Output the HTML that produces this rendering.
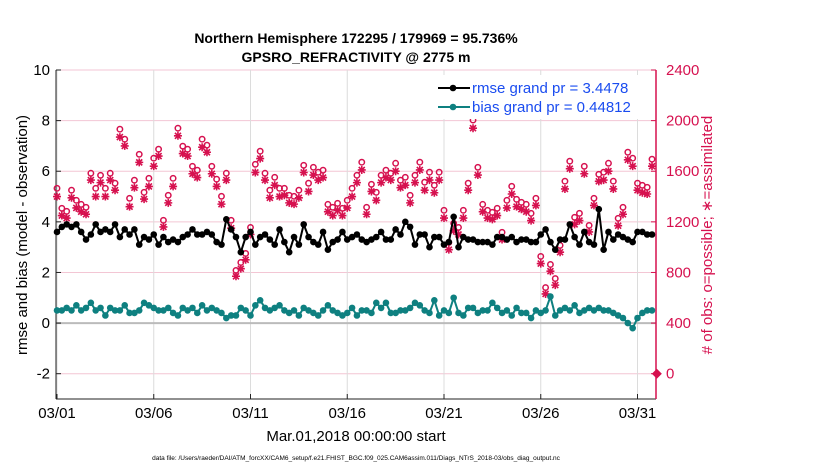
<!DOCTYPE html>
<html><head><meta charset="utf-8">
<style>
html,body{margin:0;padding:0;background:#fff;}
svg{display:block;font-family:"Liberation Sans",sans-serif;}
</style></head>
<body>
<svg id="chart" width="830" height="470" viewBox="0 0 830 470" xmlns="http://www.w3.org/2000/svg">
<text x="356" y="43" text-anchor="middle" font-size="14" font-weight="bold">Northern Hemisphere 172295 / 179969 = 95.736%</text>
<text x="356" y="62" text-anchor="middle" font-size="14" font-weight="bold">GPSRO_REFRACTIVITY @ 2775 m</text>
<g id="grid"></g>
<g id="axes"></g>
<g id="series"></g>
<g id="legend"></g>
<text transform="translate(27,235) rotate(-90)" text-anchor="middle" font-size="15">rmse and bias (model - observation)</text>
<text transform="translate(712,235) rotate(-90)" text-anchor="middle" font-size="15" fill="#d6114f"># of obs: o=possible; ∗=assimilated</text>
<text x="356" y="441" text-anchor="middle" font-size="15">Mar.01,2018 00:00:00 start</text>
<text x="356" y="460" text-anchor="middle" font-size="6.5">data file: /Users/raeder/DAI/ATM_forcXX/CAM6_setup/f.e21.FHIST_BGC.f09_025.CAM6assim.011/Diags_NTrS_2018-03/obs_diag_output.nc</text>
</svg>
<script>
const rmse=[3.6,3.8,3.9,3.8,3.9,3.6,3.3,3.5,3.9,3.6,3.7,3.6,3.9,3.4,3.7,3.5,3.7,3.1,3.4,3.3,3.5,3.1,3.4,3.2,3.3,3.2,3.4,3.5,3.7,3.5,3.5,3.6,3.5,3.2,3.1,4.1,3.7,3.4,2.8,3.4,3.6,3.1,3.4,3.5,3.3,3.1,3.7,3.2,2.8,3.4,3.1,3.9,3.4,3.2,3.1,3.6,2.9,3.2,3.3,3.6,3.3,3.4,3.5,3.3,3.2,3.3,3.4,3.6,3.3,3.3,3.7,3.5,4.0,3.8,3.1,3.5,3.5,3.0,3.4,3.4,3.1,3.2,4.2,3.0,3.4,3.3,3.3,3.2,3.2,3.2,3.1,3.4,3.4,3.3,3.4,3.2,3.3,3.3,3.2,3.2,3.5,3.7,3.2,2.9,3.3,3.3,3.9,3.4,3.1,3.6,3.2,3.1,4.5,2.9,3.6,3.3,3.5,3.4,3.3,3.2,3.6,3.6,3.5,3.5];
const bias=[.5,.5,.6,.5,.7,.5,.6,.8,.5,.6,.3,.6,.5,.5,.7,.4,.4,.5,.8,.7,.6,.5,.5,.6,.4,.3,.6,.5,.6,.4,.7,.5,.6,.5,.4,.2,.3,.3,.6,.5,.3,.7,.9,.6,.5,.6,.7,.5,.4,.5,.3,.6,.5,.4,.3,.5,.7,.5,.4,.3,.4,.6,.3,.5,.5,.4,.8,.6,.8,.4,.4,.5,.5,.6,.8,.7,.5,.4,.9,.3,.5,.4,1.0,.4,.3,.6,.6,.4,.5,.5,.8,.6,.4,.5,.3,.6,.4,.4,.2,.5,.4,.5,1.05,.3,.5,.6,.5,.7,.4,.5,.6,.5,.6,.5,.5,.4,.3,.2,0,-.2,.2,.4,.5,.5];
const obsDays=[0,.25,.5,.75,1,1.25,1.5,1.75,2,2.25,2.5,2.75,3,3.25,3.5,3.75,4,4.25,4.5,4.75,5,5.25,5.5,5.75,6,6.25,6.5,6.75,7,7.25,7.5,7.75,8,8.25,8.5,8.75,9,9.25,9.5,9.75,10,10.25,10.5,10.75,11,11.25,11.5,11.75,12,12.25,12.5,12.75,13,13.25,13.5,13.75,14,14.25,14.5,14.75,15,15.25,15.5,15.75,16,16.25,16.5,16.75,17,17.25,17.5,17.75,18,18.25,18.5,18.75,19,19.25,19.5,19.75,20,20.25,20.5,20.75,21,21.25,21.5,21.75,22,22.25,22.5,22.75,23,23.25,23.5,23.75,24,24.25,24.5,24.75,25,25.25,25.5,25.75,26,26.25,26.5,26.75,27,27.25,27.5,27.75,28,28.25,28.5,28.75,29,29.25,29.5,29.75,30,30.25,30.5,30.75,31];
const possible=[1465,1307,1283,1450,1370,1338,1315,1584,1465,1568,1465,1584,1505,1932,1853,1386,1529,1734,1433,1544,1703,1774,1212,1410,1544,1940,1798,1774,1639,1608,1853,1806,1639,1537,1402,1584,1212,816,879,950,1156,1655,1758,1584,1450,1552,1465,1465,1410,1402,1450,1647,1505,1631,1592,1608,1338,1315,1346,1307,1370,1465,1568,1671,1315,1497,1433,1568,1608,1584,1663,1529,1552,1410,1568,1671,1513,1592,1489,1592,1291,1037,1188,1156,1291,1505,2004,1631,1338,1291,1275,1307,1117,1370,1481,1378,1354,1338,1267,1386,927,681,863,752,1014,1521,1679,1236,1267,1639,1172,1386,1576,1592,1663,1521,1228,1315,1750,1703,1505,1489,1473,1695,0];
const assimilated=[1400,1250,1230,1390,1310,1280,1260,1530,1400,1510,1400,1530,1450,1870,1800,1320,1470,1670,1380,1480,1640,1720,1160,1350,1480,1880,1740,1720,1580,1550,1790,1750,1580,1480,1340,1530,1150,770,830,900,1100,1590,1700,1530,1390,1490,1400,1410,1350,1340,1390,1590,1440,1570,1530,1550,1280,1250,1290,1250,1310,1400,1510,1610,1260,1440,1370,1510,1550,1530,1600,1470,1490,1350,1510,1610,1450,1530,1430,1530,1230,980,1130,1100,1230,1450,1940,1570,1280,1230,1220,1250,1060,1310,1420,1320,1300,1280,1210,1330,870,630,810,700,960,1460,1620,1180,1210,1580,1120,1330,1520,1530,1600,1460,1170,1260,1690,1640,1450,1430,1420,1640,0];
const xTickDays=[0,5,10,15,20,25,30];
const xTickLabels=["03/01","03/06","03/11","03/16","03/21","03/26","03/31"];
const leftTicks=[-2,0,2,4,6,8,10];
const rightTicks=[0,400,800,1200,1600,2000,2400];

const NS="http://www.w3.org/2000/svg";
const X0=56,X1=656,Y0=70,Y1=399;
const dayX=d=>57+d*19.35;
const leftY=v=>Y0+(10-v)*(Y1-Y0)/13;
const rightY=v=>leftY(-2)-v*(leftY(-2)-leftY(10))/2400;
function mk(tag,attrs,parent){const e=document.createElementNS(NS,tag);for(const k in attrs)e.setAttribute(k,attrs[k]);parent.appendChild(e);return e;}
const grid=document.getElementById('grid'),axes=document.getElementById('axes'),ser=document.getElementById('series'),leg=document.getElementById('legend');
const pink="#d6114f";
// grids
rightTicks.forEach(v=>{const l=mk('line',{x1:X0,x2:X1,y1:rightY(v),y2:rightY(v),stroke:'#f3c6d4','stroke-width':1},grid);

});
xTickDays.forEach(d=>{const l=mk('line',{x1:dayX(d),x2:dayX(d),y1:Y0,y2:Y1,stroke:'#dcdcdc','stroke-width':1},grid);

});
const zl=mk('line',{x1:X0,x2:X1,y1:leftY(0),y2:leftY(0),stroke:'#bbbbbb','stroke-width':2},grid);


// axes
const la=mk('line',{x1:X0,x2:X0,y1:Y0,y2:Y1,stroke:'#222','stroke-width':1},axes);


const ba=mk('line',{x1:X0,x2:X1,y1:Y1,y2:Y1,stroke:'#222','stroke-width':1},axes);


const ra=mk('line',{x1:X1,x2:X1,y1:Y0,y2:Y1,stroke:pink,'stroke-width':1.5},axes);


leftTicks.forEach(v=>{const y=leftY(v);mk('line',{x1:X0,x2:X0+5,y1:y,y2:y,stroke:'#222'},axes);
const t=mk('text',{x:X0-6,y:y+5,'text-anchor':'end','font-size':15},axes);t.textContent=v;

});
rightTicks.forEach(v=>{const y=rightY(v);mk('line',{x1:X1-5,x2:X1,y1:y,y2:y,stroke:pink},axes);
const t=mk('text',{x:X1+10,y:y+5,'font-size':15,fill:pink},axes);t.textContent=v;

});
xTickDays.forEach((d,i)=>{const x=dayX(d);mk('line',{x1:x,x2:x,y1:Y1-5,y2:Y1,stroke:'#222'},axes);
const t=mk('text',{x:x,y:Y1+19,'text-anchor':'middle','font-size':15},axes);t.textContent=xTickLabels[i];

});
// obs series
obsDays.forEach((d,i)=>{const x=dayX(d);
 if(possible[i]===0){const dm=mk('path',{d:`M${x-5},${rightY(0)}L${x},${rightY(0)-5}L${x+5},${rightY(0)}L${x},${rightY(0)+5}Z`,fill:pink},ser);
 
 return;}
 const c=mk('circle',{cx:x,cy:rightY(possible[i]),r:2.7,fill:'none',stroke:pink,'stroke-width':1.5},ser);
 
 
 const ya=rightY(assimilated[i]);
 const s=mk('path',{d:`M${x-4},${ya}H${x+4}M${x},${ya-4}V${ya+4}M${x-3},${ya-3}L${x+3},${ya+3}M${x-3},${ya+3}L${x+3},${ya-3}`,stroke:pink,'stroke-width':1.6},ser);
 
 
});
function line(vals,color,name){
 const pts=vals.map((v,i)=>[dayX(i/4),leftY(v)]);
 const p=mk('polyline',{points:pts.map(p=>p.join(',')).join(' '),fill:'none',stroke:color,'stroke-width':2},ser);
 
 
 pts.forEach(q=>{const c=mk('circle',{cx:q[0],cy:q[1],r:3.3,fill:color},ser);
 
 });
}
line(rmse,'#000','rmse');
line(bias,'#0e8080','bias');
// legend
const lb=mk('rect',{x:436,y:75,width:210,height:44,fill:'#fff'},leg);


[['rmse grand pr = 3.4478','#000',88],['bias grand pr = 0.44812','#0e8080',107]].forEach(e=>{
 const g=mk('g',{},leg);
 
 
 mk('line',{x1:438,x2:470,y1:e[2],y2:e[2],stroke:e[1],'stroke-width':2},g);
 mk('circle',{cx:453,cy:e[2],r:3.3,fill:e[1]},g);
 const t=mk('text',{x:472,y:e[2]+5,'font-size':15,fill:'#1a4cf0'},g);t.textContent=e[0];
});
</script>
</body></html>
